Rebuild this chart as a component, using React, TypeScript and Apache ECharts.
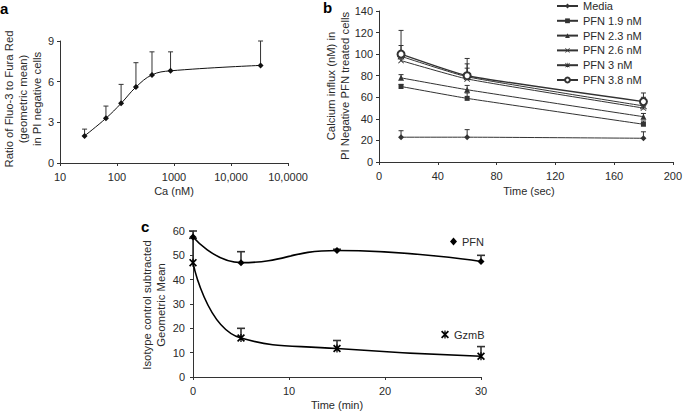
import React, { useEffect, useRef } from 'react';
import * as echarts from 'echarts';

// Panel a
const aCa = [27, 64, 118, 215, 411, 870, 33000];
const aRatio = [2.0, 3.3, 4.4, 5.6, 6.5, 6.8, 7.2];
const aRatioTop = [2.5, 4.2, 5.8, 7.4, 8.2, 8.2, 9.0];
const aTickLabels = ['10', '100', '1000', '10,000', '10,0000'];

// Panel b
const bTime = [15, 60, 180];
const bNames = ['Media', 'PFN 1.9 nM', 'PFN 2.3 nM', 'PFN 2.6 nM', 'PFN 3 nM', 'PFN 3.8 nM'];
const bMedia = [23, 23, 22];
const bMediaTop = [29, 30, 28];
const bPfn19 = [70, 59, 35];
const bPfn19Top = [72, 64, 38];
const bPfn23 = [78, 67, 42];
const bPfn23Top = [81, 71, 45];
const bPfn26 = [94, 77, 50];
const bPfn26Top = [100, 87, 53];
const bPfn3 = [98, 79, 52];
const bPfn3Top = [108, 91, 60];
const bPfn38 = [100, 80, 56];
const bPfn38Top = [122, 96, 64];

// Panel c
const cTime = [0, 5, 15, 30];
const cPfn = [57.5, 47, 52, 47.5];
const cPfnTop = [60, 51.5, 52.5, 50];
const cGzmB = [47, 16, 11.7, 8.5];
const cGzmBTop = [57, 20, 15, 12.5];

const FONT = '"Liberation Sans", Arial, Helvetica, sans-serif';
const TXT = '#2a2a2a';
const AX = '#333';

const X_SYM = 'path://M0,1L1,0L5,4L9,0L10,1L6,5L10,9L9,10L5,6L1,10L0,9L4,5Z';
const STAR_SYM = 'path://M0,1L1,0L5,4L9,0L10,1L6,5L10,9L9,10L5,6L1,10L0,9L4,5Z M4.4,0L5.6,0L5.6,10L4.4,10Z';
const GZ_SYM = 'path://M0,1.5L1.5,0L5,3.5L8.5,0L10,1.5L6.5,5L10,8.5L8.5,10L5,6.5L1.5,10L0,8.5L3.5,5Z M4.2,0L5.8,0L5.8,10L4.2,10Z';

function errRender(capHalf: number, lw: number) {
  return (_params: any, api: any) => {
    const x = api.value(0);
    const y = api.value(1);
    const t = api.value(2);
    const p0 = api.coord([x, y]);
    const p1 = api.coord([x, t]);
    const style = { stroke: AX, lineWidth: lw, fill: 'none' };
    return {
      type: 'group',
      children: [
        { type: 'line', shape: { x1: p0[0], y1: p0[1], x2: p1[0], y2: p1[1] }, style },
        { type: 'line', shape: { x1: p1[0] - capHalf, y1: p1[1], x2: p1[0] + capHalf, y2: p1[1] }, style },
      ],
    };
  };
}

function zip3(xs: number[], ys: number[], ts: number[]) {
  return xs.map((x, i) => [x, ys[i], ts[i]]);
}
function zip2(xs: number[], ys: number[]) {
  return xs.map((x, i) => [x, ys[i]]);
}

function label(text: string, x: number, y: number, rotated: boolean) {
  return {
    type: 'text',
    x,
    y,
    rotation: rotated ? Math.PI / 2 : 0,
    style: {
      text,
      fontSize: rotated ? 11.3 : 11,
      fontFamily: FONT,
      fontWeight: 'normal',
      fill: TXT,
      align: 'center',
      verticalAlign: 'middle',
      lineHeight: 14,
    },
  };
}

function panelLetter(text: string, left: number, top: number) {
  return {
    type: 'text',
    left,
    top,
    style: { text, fontSize: 15, fontFamily: FONT, fontWeight: 'bold', fill: '#000' },
  };
}

export default function App() {
  const ref = useRef<HTMLDivElement>(null);
  useEffect(() => {
    if (!ref.current) return;
    const chart = echarts.init(ref.current, undefined, { renderer: 'svg' });

    const axisCommon = {
      axisLine: { show: true, lineStyle: { color: AX, width: 1 } },
      axisTick: { show: true, length: 3, lineStyle: { color: AX } },
      splitLine: { show: false },
      axisLabel: { color: TXT, fontSize: 11, fontFamily: FONT },
    };

    const bVals = [bMedia, bPfn19, bPfn23, bPfn26, bPfn3, bPfn38];
    const bTops = [bMediaTop, bPfn19Top, bPfn23Top, bPfn26Top, bPfn3Top, bPfn38Top];
    const bSyms = ['diamond', 'rect', 'triangle', X_SYM, STAR_SYM, 'emptyCircle'];
    const bSizes = [6, 5, 6, 6, 7, 7];

    const bSeries: any[] = bNames.map((name, i) => ({
      type: 'line',
      name,
      xAxisIndex: 1,
      yAxisIndex: 1,
      data: zip2(bTime, bVals[i]),
      smooth: 0.15,
      symbol: bSyms[i],
      symbolSize: bSizes[i],
      showAllSymbol: true,
      lineStyle: { color: AX, width: i === 5 ? 1.4 : 1 },
      itemStyle: i === 5 ? { color: AX, borderWidth: 1.5 } : { color: AX },
      z: 3,
    }));

    const bErr: number[][] = [];
    bNames.forEach((_, i) => {
      bTime.forEach((t, j) => bErr.push([t, bVals[i][j], bTops[i][j]]));
    });

    const option: any = {
      animation: false,
      textStyle: { fontFamily: FONT, color: TXT },
      grid: [
        { left: 60, top: 41, width: 228, height: 122 },
        { left: 379, top: 11, width: 300, height: 151 },
        { left: 193, top: 231, width: 288, height: 146 },
      ],
      xAxis: [
        {
          ...axisCommon,
          gridIndex: 0,
          type: 'log',
          logBase: 10,
          min: 10,
          max: 100000,
          axisLabel: {
            ...axisCommon.axisLabel,
            margin: 8,
            formatter: (v: number) => aTickLabels[Math.round(Math.log10(v)) - 1] ?? '',
          },
          minorTick: { show: false },
        },
        {
          ...axisCommon,
          gridIndex: 1,
          type: 'value',
          min: 0,
          max: 200,
          interval: 40,
          axisLabel: { ...axisCommon.axisLabel, margin: 8 },
        },
        {
          ...axisCommon,
          gridIndex: 2,
          type: 'value',
          min: 0,
          max: 30,
          interval: 10,
          axisLabel: { ...axisCommon.axisLabel, margin: 8 },
        },
      ],
      yAxis: [
        {
          ...axisCommon,
          gridIndex: 0,
          type: 'value',
          min: 0,
          max: 9,
          interval: 3,
          axisLabel: { ...axisCommon.axisLabel, margin: 6 },
        },
        {
          ...axisCommon,
          gridIndex: 1,
          type: 'value',
          min: 0,
          max: 140,
          interval: 20,
          axisLabel: { ...axisCommon.axisLabel, margin: 6 },
        },
        {
          ...axisCommon,
          gridIndex: 2,
          type: 'value',
          min: 0,
          max: 60,
          interval: 10,
          axisLabel: { ...axisCommon.axisLabel, margin: 8 },
        },
      ],
      legend: [
        {
          show: true,
          orient: 'vertical',
          left: 556,
          top: 0.5,
          padding: 0,
          itemWidth: 21,
          itemHeight: 6,
          itemGap: 3.8,
          data: bNames,
          textStyle: { fontSize: 11, color: TXT, fontFamily: FONT },
        },
        {
          show: true,
          left: 450,
          top: 236,
          padding: 0,
          itemWidth: 7,
          itemHeight: 8,
          data: [{ name: 'PFN', icon: 'diamond' }],
          textStyle: { fontSize: 11, color: TXT, fontFamily: FONT },
        },
        {
          show: true,
          left: 441,
          top: 329,
          padding: 0,
          itemWidth: 8,
          itemHeight: 8,
          data: [{ name: 'GzmB', icon: GZ_SYM }],
          textStyle: { fontSize: 11, color: TXT, fontFamily: FONT },
        },
      ],
      series: [
        {
          type: 'line',
          name: 'Ratio',
          xAxisIndex: 0,
          yAxisIndex: 0,
          data: zip2(aCa, aRatio),
          smooth: 0.4,
          symbol: 'diamond',
          symbolSize: 6,
          lineStyle: { color: '#111', width: 1 },
          itemStyle: { color: '#111' },
          z: 3,
        },
        {
          type: 'custom',
          xAxisIndex: 0,
          yAxisIndex: 0,
          data: zip3(aCa, aRatio, aRatioTop),
          renderItem: errRender(2.5, 1),
          silent: true,
        },
        ...bSeries,
        {
          type: 'custom',
          xAxisIndex: 1,
          yAxisIndex: 1,
          data: bErr,
          renderItem: errRender(2.5, 1),
          silent: true,
        },
        {
          type: 'line',
          name: 'PFN',
          xAxisIndex: 2,
          yAxisIndex: 2,
          data: zip2(cTime, cPfn),
          smooth: 0.5,
          symbol: 'diamond',
          symbolSize: 7,
          lineStyle: { color: '#000', width: 1.6 },
          itemStyle: { color: '#000' },
          z: 3,
        },
        {
          type: 'line',
          name: 'GzmB',
          xAxisIndex: 2,
          yAxisIndex: 2,
          data: zip2(cTime, cGzmB),
          smooth: 0.5,
          symbol: GZ_SYM,
          symbolSize: 8,
          lineStyle: { color: '#000', width: 1.6 },
          itemStyle: { color: '#000' },
          z: 3,
        },
        {
          type: 'custom',
          xAxisIndex: 2,
          yAxisIndex: 2,
          data: [...zip3(cTime, cPfn, cPfnTop), ...zip3(cTime, cGzmB, cGzmBTop)],
          renderItem: errRender(4, 1.6),
          silent: true,
        },
      ],
      graphic: [
        panelLetter('a', 0, 1),
        panelLetter('b', 323, 0),
        panelLetter('c', 141, 219),
        label('Ratio of Fluo-3 to Fura Red\n(geometric mean)\nin PI negative cells', 23, 99, true),
        label('Calcium influx (nM) in\nPI Negative PFN treated cells', 338, 86, true),
        label('Isotype control subtracted\nGeometric Mean', 154, 305, true),
        label('Ca (nM)', 174, 191, false),
        label('Time (sec)', 529, 191, false),
        label('Time (min)', 337, 405, false),
      ],
    };

    chart.setOption(option);
    return () => chart.dispose();
  }, []);

  return (
    <div
      ref={ref}
      style={{ position: 'fixed', left: 0, top: 0, width: 685, height: 413, background: '#fff' }}
    />
  );
}
